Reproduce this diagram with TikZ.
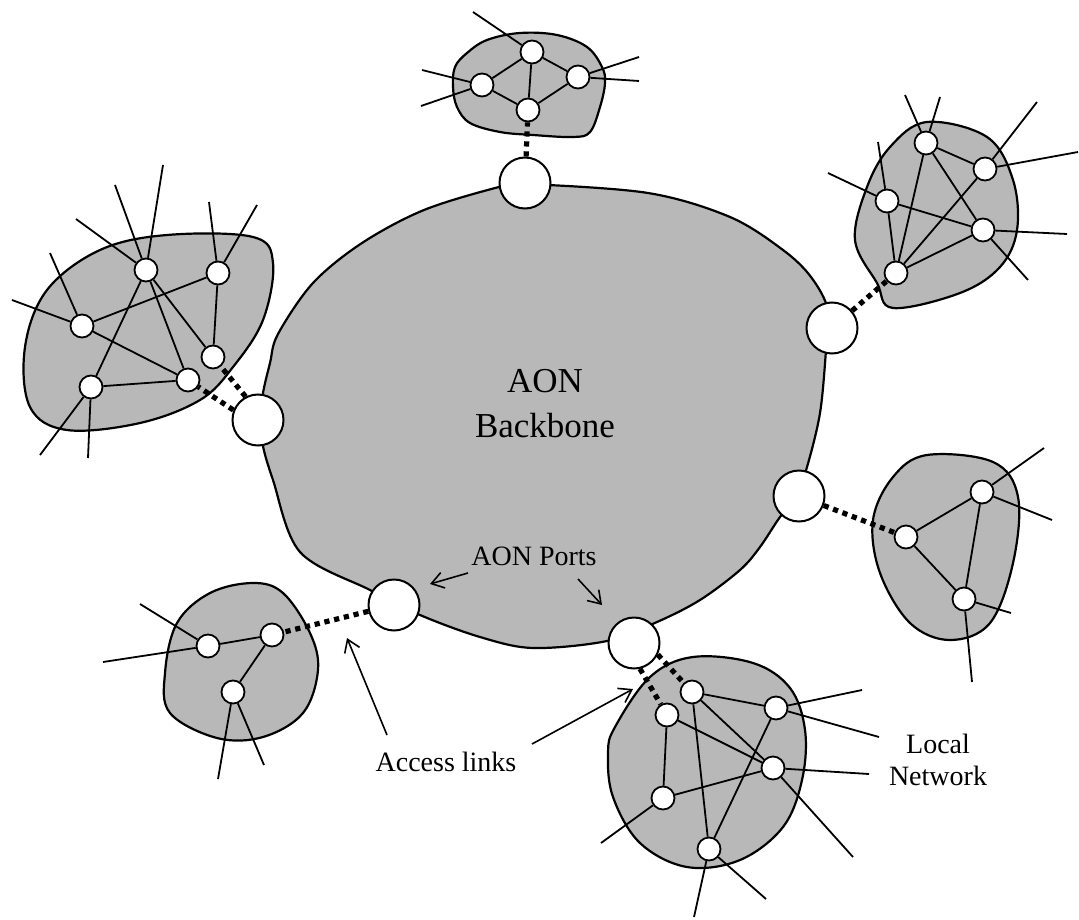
\documentclass[tikz,border=0pt]{standalone}
\usepackage{fontspec}
\setmainfont{Liberation Serif}
\usetikzlibrary{arrows.meta}
\definecolor{dotgray}{gray}{0.72}

\tikzset{
  host/.style={circle, draw, fill=white, line width=0.9pt, minimum size=11.5pt, inner sep=0pt},
  port/.style={circle, draw, fill=white, line width=1pt, minimum size=25.5pt, inner sep=0pt},
  lan/.style={draw, fill=dotgray, line width=1.1pt},
  wire/.style={line width=0.9pt},
  access/.style={line width=2.6pt, dash pattern=on 2.6pt off 2.4pt},
  pointer/.style={line width=0.8pt, -{Straight Barb[length=6pt,width=8pt]}},
  lbl/.style={font=\fontsize{14}{16}\selectfont, align=center}
}

\begin{document}
\begin{tikzpicture}[x=0.5pt,y=-0.5pt]
\useasboundingbox (0,0) rectangle (1079,919);

% backbone and local networks
\draw[lan] plot[smooth cycle, tension=0.55] coordinates {(525,184) (648,193) (730,217) (783,250) (811,277) (828,310) (826,350) (820,413) (807,467) (795,500) (780,517) (760,547) (740,570) (700,600) (657,622) (607,641) (533,648) (480,637) (420,615) (370,590) (300,552) (273,480) (262,440) (262,400) (270,363) (278,334) (313,283) (362,243) (424,210) (499,187)};
\draw[lan] plot[smooth cycle, tension=0.6] coordinates {(455,67) (467,53) (487,40) (520,33) (557,35) (587,47) (602,67) (605,83) (600,107) (590,132) (573,137) (533,135) (500,132) (470,123) (457,107) (453,87)};
\draw[lan] plot[smooth cycle, tension=0.6] coordinates {(927,122) (987,137) (1013,180) (1017,230) (1000,267) (960,293) (893,308) (877,283) (855,240) (867,187) (890,147)};
\draw[lan] plot[smooth cycle, tension=0.6] coordinates {(273,263) (253,237) (167,235) (100,250) (47,290) (25,347) (30,407) (67,430) (140,423) (200,400) (233,367) (263,320)};
\draw[lan] plot[smooth cycle, tension=0.6] coordinates {(873,520) (893,477) (927,455) (993,462) (1018,497) (1013,563) (990,623) (950,640) (910,623) (880,573)};
\draw[lan] plot[smooth cycle, tension=0.6] coordinates {(253,583) (283,593) (310,633) (318,670) (303,713) (263,737) (217,738) (170,713) (165,673) (177,623) (210,593)};
\draw[lan] plot[smooth cycle, tension=0.6] coordinates {(615,727) (650,677) (693,657) (753,663) (790,688) (805,730) (802,780) (783,827) (740,860) (687,867) (640,843) (613,797) (608,753)};

\node[font=\fontsize{17.5}{22.5}\selectfont, align=center] (aon) at (545,404) {AON\\Backbone};

% AON ports
\node[port] (pt) at (525,183) {};
\node[port] (pr) at (832,328) {};
\node[port] (pm) at (799,496) {};
\node[port] (ps) at (634,643) {};
\node[port] (pb) at (394,605) {};
\node[port] (pl) at (258,420) {};

% hosts
\foreach \n/\x/\y in {ta/532/52, tb/482/85, tc/578/77, td/528/110,
  ra/926/143, rb/985/169, rc/887/201, rd/983/230, re/896/273,
  la/146/270, lb/218/273, lc/82/326, ld/213/357, le/188/380, lf/91/387,
  ma/906/537, mb/982/492, mc/964/599,
  ba/208/646, bb/272/635, bc/233/692,
  sa/692/692, sb/667/715, sc/776/708, sd/773/768, se/663/798, sf/709/849}
  \node[host] (\n) at (\x,\y) {};

\foreach \a/\b in {ta/tb, ta/tc, ta/td, tb/td, tc/td,
  ra/rb, ra/re, ra/rd, rc/rd, rc/re, rb/re, rd/re,
  la/lf, la/le, la/ld, lb/lc, lb/ld, lc/le, lf/le,
  ma/mb, ma/mc, mb/mc,
  ba/bb, bb/bc,
  sa/sc, sa/sf, sa/sd, sb/sd, sb/se, sc/sf, se/sd}
  \draw[wire] (\a) -- (\b);

\foreach \h/\x/\y [count=\i] in {ta/473/12, tb/422/70, tb/421/106, tc/639/57, tc/639/81,
  ra/905/95, ra/940/97, rc/878/142, rc/828/173, rb/1037/102, rb/1078/152, rd/1067/234, rd/1028/280,
  la/115/185, la/163/165, la/76/219, lb/209/202, lb/257/205, lc/50/253, lc/12/300, lf/40/455, lf/88/458,
  mb/1044/448, mb/1052/520, mc/1011/613, mc/972/682,
  ba/140/604, ba/103/662, bc/218/779, bc/264/765,
  sc/862/690, sc/879/737, sd/869/774, sd/853/857, se/601/843, sf/694/917, sf/766/899}
  {\coordinate (end\i) at (\x,\y); \draw[wire] (\h) -- (end\i);}

% access links
\draw[access] (pt) -- (td);
\draw[access] (pr) -- (re);
\draw[access] (pm) -- (ma);
\draw[access] (pb) -- (bb);
\draw[access] (pl.118) -- (ld);
\draw[access] (pl.158) -- (le);
\draw[access] (ps.-77) -- (sb);
\draw[access] (ps.-26) -- (sa);

% labels
\node[lbl] (ports) at (534,556) {AON Ports};
\node[lbl] (links) at (446,762) {Access links};
\node[lbl] (local) at (938,760) {Local\\Network};
\coordinate (p1) at (468,573);
\coordinate (p2) at (430,584);
\coordinate (p3) at (578,579);
\coordinate (p4) at (602,605);
\coordinate (a1) at (387,735);
\coordinate (a2) at (347,638);
\coordinate (a3) at (532,744);
\coordinate (a4) at (633,689);
\draw[pointer] (p1) -- (p2);
\draw[pointer] (p3) -- (p4);
\draw[pointer] (a1) -- (a2);
\draw[pointer] (a3) -- (a4);
\end{tikzpicture}
\end{document}
